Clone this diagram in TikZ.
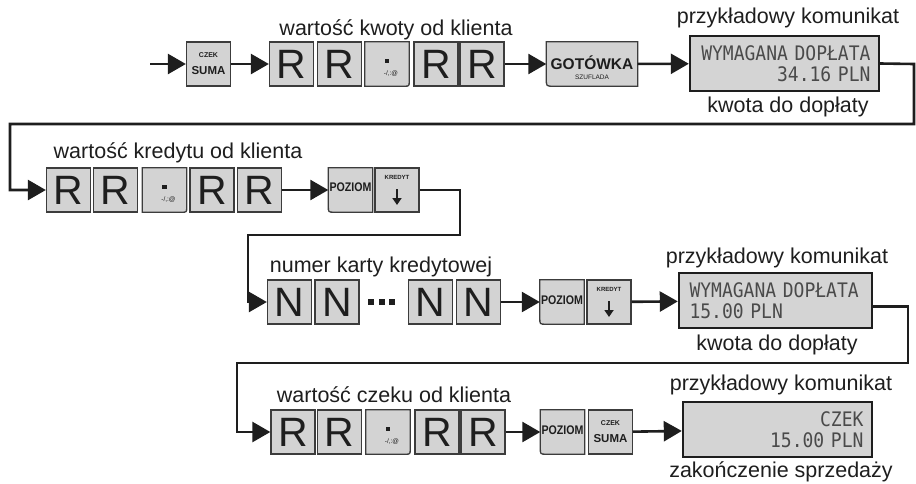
\documentclass[tikz,border=0pt]{standalone}
\usepackage{fontspec}
\setmainfont{Liberation Sans}
\newfontfamily\narrowf[FakeStretch=0.85]{Liberation Sans}
\newfontfamily\lcdf[FakeStretch=0.9]{DejaVu Sans Mono}
\usetikzlibrary{arrows.meta,backgrounds}
\definecolor{keyfill}{HTML}{D3D3D3}
\definecolor{keyline}{HTML}{3C3C3C}
\definecolor{lcdfill}{HTML}{D4D4D4}
\definecolor{lcdtext}{HTML}{4A4A4A}
\definecolor{ink}{HTML}{1E1E1E}
\newcommand\roundbl[2][7pt]{%
  \begin{scope}[on background layer]
  \path[shapeline] (#2.north west) -- (#2.north east) -- (#2.south east) -- ([xshift=#1]#2.south west) .. controls (#2.south west) .. ([yshift=#1]#2.south west) -- cycle;
  \end{scope}}
\newcommand\roundbr[2][5pt]{%
  \begin{scope}[on background layer]
  \path[shapeline] (#2.north west) -- (#2.north east) -- ([yshift=#1]#2.south east) .. controls (#2.south east) .. ([xshift=-#1]#2.south east) -- (#2.south west) -- cycle;
  \end{scope}}
\begin{document}
\begin{tikzpicture}[x=1pt,y=-1pt,
  keybox/.style={draw=keyline, fill=keyfill, line width=1.3pt, minimum width=44pt, minimum height=44pt, inner sep=0pt, font=\fontsize{41}{41}\selectfont, text=ink},
  rawkey/.style={minimum width=44pt, minimum height=44pt, inner sep=0pt},
  shapeline/.style={draw=keyline, fill=keyfill, line width=1.3pt},
  disp/.style={draw=ink, fill=lcdfill, line width=2.4pt, minimum height=55pt, inner sep=0pt, text width=172pt, text=lcdtext, font=\lcdf\fontsize{20}{21}\selectfont},
  flow/.style={draw=ink, line width=2.6pt, -{Triangle[length=18pt,width=20pt]}},
  downarr/.style={draw=ink, line width=1.8pt, -{Triangle[length=7pt,width=9pt]}},
  lbl/.style={font=\fontsize{21.5}{25}\selectfont, text=ink, inner sep=0pt},
  tinyb/.style={font=\bfseries\fontsize{7}{8}\selectfont, inner sep=0pt, text=ink},
  tinyk/.style={font=\bfseries\fontsize{6}{7}\selectfont, inner sep=0pt, text=ink},
  tinyr/.style={font=\fontsize{6.5}{7}\selectfont, inner sep=0pt, text=ink},
  sumab/.style={font=\bfseries\fontsize{11.5}{12}\selectfont, inner sep=0pt, text=ink},
  pozb/.style={font=\narrowf\bfseries\fontsize{12.5}{13}\selectfont, inner sep=0pt, text=ink},
  gotb/.style={font=\bfseries\fontsize{15.5}{16}\selectfont, inner sep=0pt, text=ink}
]
\useasboundingbox (0,0) rectangle (916,483);

% ---------- row 1 ----------
\coordinate (s0) at (150,64);
\node[keybox] (suma1) at (208.5,64) {};
\node[tinyb] (suma1a) at ([yshift=9pt]suma1.center) {CZEK};
\node[sumab] (suma1b) at ([yshift=-7pt]suma1.center) {SUMA};
\node[keybox] (r1a) at (291.5,64) {R};
\node[keybox] (r1b) at (339.5,64) {R};
\node[rawkey] (dot1) at (387,64) {};
\roundbr{dot1}
\fill[ink] ([xshift=-2.2pt,yshift=0.8pt]dot1.center) rectangle ([xshift=2.2pt,yshift=5.2pt]dot1.center);
\node[tinyr] (dot1t) at ([xshift=4pt,yshift=-10pt]dot1.center) {-/,:@};
\node[keybox] (r1c) at (436,64) {R};
\node[keybox] (r1d) at (482,64) {R};
\node[rawkey, minimum width=91pt] (got) at (592,64) {};
\roundbl{got}
\node[gotb] (gota) at ([yshift=1pt]got.center) {GOTÓWKA};
\node[tinyr] (gotb) at ([yshift=-13pt]got.center) {SZUFLADA};
\node[disp, minimum width=189pt, align=right] (d1) at (784.5,63.5) {WYMAGANA DOPŁATA\\34.16 PLN};
\node[lbl] (t1) at (396,30) {wartość kwoty od klienta};
\node[lbl] (t2) at (788,18) {przykładowy komunikat};
\node[lbl] (t3) at (788,107) {kwota do dopłaty};

\draw[flow] (s0) -- (suma1);
\draw[flow] (suma1) -- (r1a);
\draw[flow] (r1d) -- (got);
\draw[flow] (got) -- (d1);

% ---------- row 2 ----------
\node[lbl] (t4) at (178,153) {wartość kredytu od klienta};
\node[keybox] (r2a) at (68.5,190) {R};
\node[keybox] (r2b) at (115.5,190) {R};
\node[rawkey] (dot2) at (164.5,190) {};
\roundbr{dot2}
\fill[ink] ([xshift=-2.2pt,yshift=0.8pt]dot2.center) rectangle ([xshift=2.2pt,yshift=5.2pt]dot2.center);
\node[tinyr] (dot2t) at ([xshift=4pt,yshift=-10pt]dot2.center) {-/,:@};
\node[keybox] (r2c) at (212,190) {R};
\node[keybox] (r2d) at (259.5,190) {R};
\node[rawkey] (pz2) at (350.5,190) {};
\roundbl[6pt]{pz2}
\node[pozb] (pz2t) at ([yshift=3pt]pz2.center) {POZIOM};
\node[keybox] (kr2) at (397,190) {};
\node[tinyk] (kr2t) at ([yshift=13pt]kr2.center) {KREDYT};
\draw[downarr] ([yshift=1pt]kr2.center) -- ([yshift=-15pt]kr2.center);

\draw[flow] (r2d) -- (pz2);

% ---------- row 3 ----------
\node[lbl] (t5) at (381,267) {numer karty kredytowej};
\node[keybox] (n1) at (289.5,302) {N};
\node[keybox] (n2) at (337,302) {N};
\coordinate (nd) at (381.5,302);
\fill[ink] ([xshift=-13.5pt,yshift=-3pt]nd) rectangle ([xshift=-7.5pt,yshift=3pt]nd);
\fill[ink] ([xshift=-3pt,yshift=-3pt]nd) rectangle ([xshift=3pt,yshift=3pt]nd);
\fill[ink] ([xshift=7.5pt,yshift=-3pt]nd) rectangle ([xshift=13.5pt,yshift=3pt]nd);
\node[keybox] (n3) at (430.5,302) {N};
\node[keybox] (n4) at (478.5,302) {N};
\node[rawkey] (pz3) at (562,302) {};
\roundbl[6pt]{pz3}
\node[pozb] (pz3t) at ([yshift=2pt]pz3.center) {POZIOM};
\node[keybox] (kr3) at (609,302) {};
\node[tinyk] (kr3t) at ([yshift=13pt]kr3.center) {KREDYT};
\draw[downarr] ([yshift=1pt]kr3.center) -- ([yshift=-15pt]kr3.center);
\node[disp, minimum width=193pt, align=left] (d2) at (775.5,300.5) {WYMAGANA DOPŁATA\\15.00 PLN};
\node[lbl] (t6) at (777,258) {przykładowy komunikat};
\node[lbl] (t7) at (777,345) {kwota do dopłaty};

\draw[flow] (n4) -- (pz3);
\draw[flow] (kr3) -- (d2);

% ---------- row 4 ----------
\node[lbl] (t8) at (394,395) {wartość czeku od klienta};
\node[keybox] (r3a) at (293,432) {R};
\node[keybox] (r3b) at (339.5,432) {R};
\node[rawkey] (dot3) at (388,432) {};
\roundbr{dot3}
\fill[ink] ([xshift=-2.2pt,yshift=0.8pt]dot3.center) rectangle ([xshift=2.2pt,yshift=5.2pt]dot3.center);
\node[tinyr] (dot3t) at ([xshift=4pt,yshift=-10pt]dot3.center) {-/,:@};
\node[keybox] (r3c) at (437,432) {R};
\node[keybox] (r3d) at (483,432) {R};
\node[rawkey] (pz4) at (562.5,432) {};
\roundbl[6pt]{pz4}
\node[pozb] (pz4t) at ([yshift=2pt]pz4.center) {POZIOM};
\node[keybox] (suma4) at (610.5,432) {};
\node[tinyb] (suma4a) at ([yshift=9pt]suma4.center) {CZEK};
\node[sumab] (suma4b) at ([yshift=-7pt]suma4.center) {SUMA};
\node[disp, minimum width=189pt, align=right] (d3) at (777.5,429.5) {CZEK\\15.00 PLN};
\node[lbl] (t9) at (781,385) {przykładowy komunikat};
\node[lbl] (t10) at (781,472) {zakończenie sprzedaży};

\draw[flow] (r3d) -- (pz4);
\draw[flow] (suma4) -- (d3);

% ---------- row-to-row connectors ----------
\draw[flow] (d1.east) -- (914,64) -- (914,124) -- (10,124) |- (r2a.west);
\draw[flow] (kr2.east) -- (460,190) -- (460,235) -- (248,235) |- (n1.west);
\draw[flow] ([yshift=-6pt]d2.east) -- (908,306.5) -- (908,363) -- (237,363) |- (r3a.west);
\end{tikzpicture}
\end{document}
